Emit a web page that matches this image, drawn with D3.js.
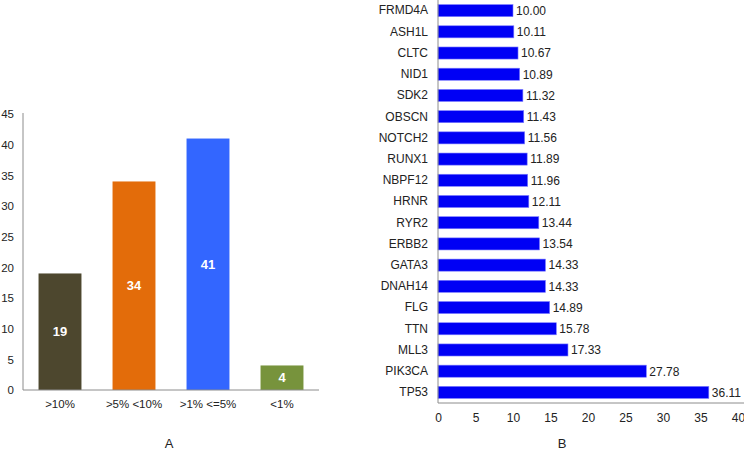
<!DOCTYPE html>
<html><head><meta charset="utf-8">
<script src="https://cdn.jsdelivr.net/npm/d3@7"></script>
<style>body{margin:0;background:#fff}svg{display:block;font-family:"Liberation Sans",Arial,sans-serif}</style>
</head><body>
<svg id="c" width="744" height="450"></svg>
<script>
const catsA = [">10%", ">5% <10%", ">1% <=5%", "<1%"];
const valsA = [19, 34, 41, 4];
const colorsA = ["#4d472e", "#e36c0a", "#3366ff", "#77933c"];
const ticksA = [0,5,10,15,20,25,30,35,40,45];

const genes = ["FRMD4A","ASH1L","CLTC","NID1","SDK2","OBSCN","NOTCH2","RUNX1","NBPF12","HRNR","RYR2","ERBB2","GATA3","DNAH14","FLG","TTN","MLL3","PIK3CA","TP53"];
const geneVals = [10.00,10.11,10.67,10.89,11.32,11.43,11.56,11.89,11.96,12.11,13.44,13.54,14.33,14.33,14.89,15.78,17.33,27.78,36.11];
const ticksB = [0,5,10,15,20,25,30,35,40];

const svg = d3.select("#c");
const axisCol = "#8c8c8c";

// Panel A
const xA = d3.scaleBand().domain(catsA).range([23, 319]).paddingInner(0.42).paddingOuter(0.21);
const yA = d3.scaleLinear().domain([0,45]).range([390, 114]);
const gA = svg.append("g");
gA.selectAll("rect").data(valsA).join("rect")
  .attr("x",(d,i)=>xA(catsA[i])).attr("width",xA.bandwidth())
  .attr("y",d=>yA(d)).attr("height",d=>yA(0)-yA(d))
  .attr("fill",(d,i)=>colorsA[i]);
gA.selectAll("text.v").data(valsA).join("text").attr("class","v")
  .attr("x",(d,i)=>xA(catsA[i])+xA.bandwidth()/2).attr("y",d=>(yA(d)+yA(0))/2)
  .attr("dy","0.36em").attr("text-anchor","middle").attr("fill","#fff")
  .attr("font-weight","bold").attr("font-size",13).text(d=>d);
const axYA = gA.append("g").attr("transform","translate(23,0)")
  .call(d3.axisLeft(yA).tickValues(ticksA).tickSize(0).tickPadding(9));
axYA.select(".domain").attr("stroke",axisCol).attr("d","M0,113V390");
axYA.selectAll("text").attr("font-size",11.5).attr("fill","#222").attr("font-family","Liberation Sans, Arial, sans-serif");
const axXA = gA.append("g").attr("transform","translate(0,390)")
  .call(d3.axisBottom(xA).tickSize(0).tickPadding(10));
axXA.select(".domain").attr("stroke",axisCol).attr("d","M23,0H319");
axXA.selectAll("text").attr("font-size",11.5).attr("fill","#222").attr("font-family","Liberation Sans, Arial, sans-serif");
svg.append("text").attr("x",169).attr("y",448).attr("text-anchor","middle").attr("font-size",13).attr("fill","#222").text("A");

// Panel B
const xB = d3.scaleLinear().domain([0,40]).range([438, 738]);
const yB = d3.scaleBand().domain(genes).range([0, 403]).paddingInner(0.43).paddingOuter(0.215);
const gB = svg.append("g");
gB.selectAll("rect").data(geneVals).join("rect")
  .attr("x",xB(0)).attr("y",(d,i)=>yB(genes[i])).attr("height",yB.bandwidth())
  .attr("width",d=>xB(d)-xB(0)).attr("fill","#0000f5").attr("stroke","#8080ff").attr("stroke-width",0.6);
gB.selectAll("text.v").data(geneVals).join("text").attr("class","v")
  .attr("x",d=>xB(d)+3).attr("y",(d,i)=>yB(genes[i])+yB.bandwidth()/2)
  .attr("dy","0.36em").attr("font-size",12).attr("fill","#222").text(d=>d.toFixed(2));
const axYB = gB.append("g").attr("transform","translate(438,0)")
  .call(d3.axisLeft(yB).tickSize(0).tickPadding(10));
axYB.select(".domain").attr("stroke",axisCol).attr("d","M0,0V403");
axYB.selectAll("text").attr("font-size",12).attr("fill","#222").attr("font-family","Liberation Sans, Arial, sans-serif");
const axXB = gB.append("g").attr("transform","translate(0,403)")
  .call(d3.axisBottom(xB).tickValues(ticksB).tickSize(0).tickPadding(10));
axXB.select(".domain").attr("stroke",axisCol).attr("d","M438,0H744");
axXB.selectAll("text").attr("font-size",12).attr("fill","#222").attr("font-family","Liberation Sans, Arial, sans-serif");
svg.append("text").attr("x",562).attr("y",448).attr("text-anchor","middle").attr("font-size",13).attr("fill","#222").text("B");
</script>
</body></html>
